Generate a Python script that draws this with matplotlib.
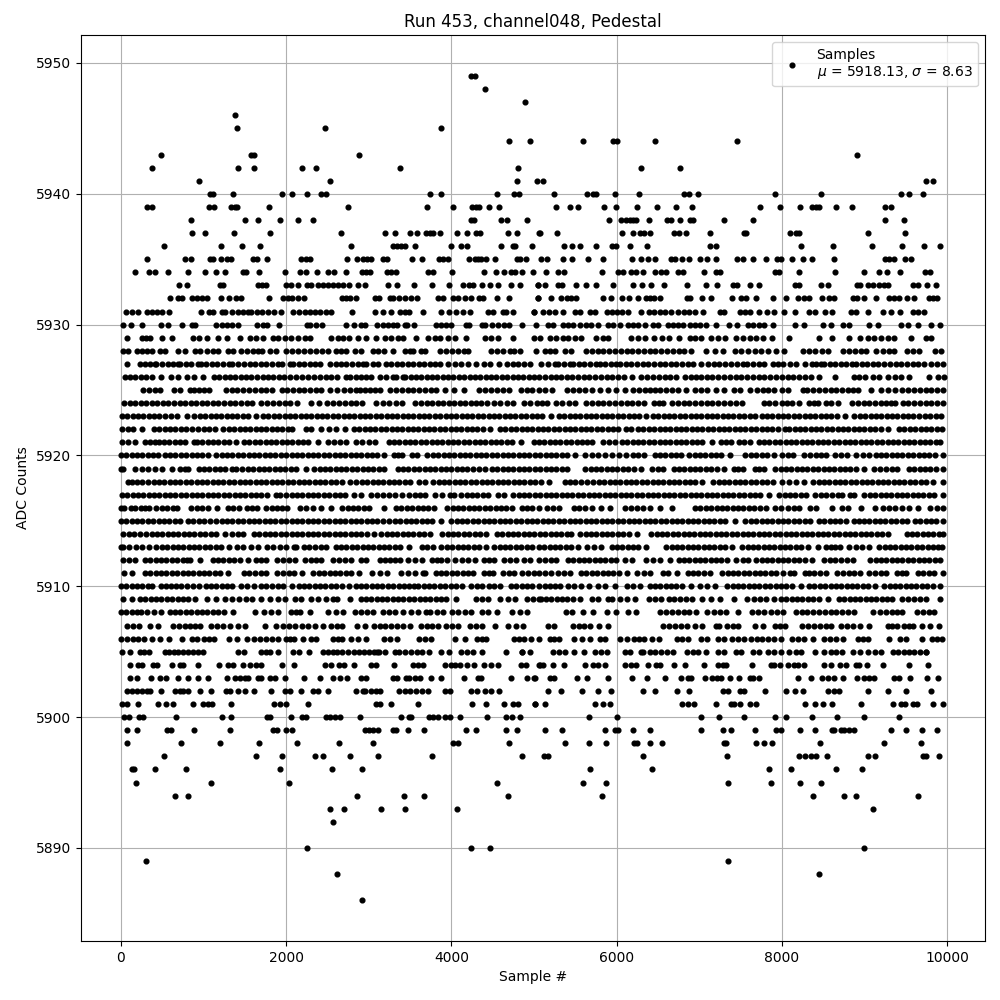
#!/usr/bin/env python3
"""Pedestal samples for run 453, channel 048 (values read off the scope plot)."""

import matplotlib

matplotlib.use("Agg")
import matplotlib.pyplot as plt

# sample numbers seen at each ADC level
s5949 = [4240, 4280]
s5948 = [4409]
s5947 = [4888]
s5946 = [1382]
s5945 = [1406, 2470, 3873]
s5944 = [4695, 4949, 5594, 5957, 6005, 6464, 7456]
s5943 = [488, 1580, 1612, 2881, 8906]
s5942 = [379, 1419, 1612, 2192, 2362, 3377, 4804, 6295, 6767]
s5941 = [947, 2531, 4792, 5037, 5110, 9741, 9825]
s5940 = [1076, 1108, 1358, 1951, 2071, 2253, 2418, 2482, 3740, 3873, 4550, 4755, 4816, 5243, 5642, 5715, 5755, 5981,
         6271, 6815, 6875, 6984, 7915, 8471, 9442, 9535, 9704]
s5939 = [310, 379, 1068, 1124, 1334, 1378, 1406, 1793, 2748, 3704, 4018, 4252, 4300, 4332, 4453, 4574, 5271, 5437,
         5533, 5848, 5993, 6247, 6488, 6718, 6912, 7734, 7976, 8217, 8363, 8415, 8455, 8653, 8854, 9245, 9321]
s5938 = [850, 1503, 1660, 1926, 2144, 2325, 4240, 4270, 4598, 4670, 4912, 5908, 6053, 6118, 6158, 6198, 6239, 6392,
         6609, 6658, 6767, 6891, 6924, 7298, 7649, 9245, 9475]
s5937 = [862, 1020, 1370, 1805, 2664, 3196, 3317, 3498, 3583, 3695, 3744, 3780, 3861, 4070, 4187, 4300, 4348, 4683,
         4792, 5066, 5074, 5279, 6065, 6198, 6279, 6327, 6404, 6694, 6754, 6839, 7129, 7548, 7568, 8096, 8169, 8205,
         9039, 9487]
s5936 = [524, 1213, 1467, 1685, 2785, 3293, 3341, 3385, 3438, 3558, 3994, 4111, 4187, 4598, 4743, 4771, 4977, 5364,
         5461, 5558, 5751, 5944, 5989, 6162, 6368, 7129, 7198, 8229, 8616, 9088, 9451, 9716, 9910]
s5935 = [318, 778, 850, 1076, 1116, 1213, 1278, 1334, 1600, 1648, 1769, 2184, 2245, 2285, 2732, 2857, 2930, 2978,
         3027, 3172, 3220, 3522, 3643, 3849, 3897, 3957, 4211, 4280, 4320, 4360, 4421, 4526, 4792, 4832, 4900, 5086,
         5159, 5352, 5461, 5654, 5836, 6186, 6295, 6380, 6460, 6660, 6710, 6791, 6875, 7004, 7093, 7206, 7456, 7528,
         7649, 7806, 7939, 7992, 8121, 8254, 8363, 8628, 9253, 9293, 9362, 9487, 9559]
s5934 = [173, 343, 415, 572, 814, 1020, 1153, 1257, 1479, 1511, 1672, 1987, 2168, 2241, 2374, 2507, 2575, 2724, 2918,
         2970, 3018, 3220, 3272, 3333, 3716, 3776, 4006, 4393, 4538, 4638, 4723, 4771, 4852, 4993, 5146, 5292, 5364,
         5824, 6017, 6077, 6174, 6235, 6319, 6464, 6541, 6601, 6742, 6803, 7057, 7198, 7254, 7915, 7972, 8205, 8640,
         8991, 9172, 9269, 9426, 9729, 9789]
s5933 = [701, 794, 1197, 1237, 1660, 1713, 1761, 2000, 2063, 2144, 2253, 2305, 2386, 2446, 2507, 2567, 2628, 2688,
         2760, 2869, 2954, 3232, 3341, 3546, 3764, 3974, 4139, 4211, 4260, 4372, 4465, 4562, 4723, 4832, 5046, 5050,
         5134, 5292, 5340, 5509, 5630, 5747, 5956, 6198, 6307, 6416, 6573, 6851, 7081, 7214, 7407, 7456, 7609, 7730,
         8165, 8205, 8471, 8556, 8906, 8951, 9039, 9100, 9181, 9241, 9281, 9584, 9644, 9753, 9861]
s5932 = [596, 693, 733, 862, 923, 975, 1044, 1213, 1310, 1398, 1459, 1789, 1963, 2023, 2075, 2144, 2216, 2676, 2720,
         2777, 2841, 3071, 3123, 3252, 3292, 3365, 3434, 3514, 3583, 3836, 3897, 4018, 4078, 4163, 4240, 4340, 4380,
         4550, 4695, 5046, 5050, 5211, 5328, 5400, 5453, 5513, 5836, 5936, 6065, 6150, 6259, 6351, 6400, 6452, 6521,
         6851, 6891, 7032, 7145, 7395, 7508, 7568, 7685, 7891, 8048, 8193, 8274, 8334, 8491, 8576, 8636, 8858, 8906,
         9000, 9140, 9293, 9362, 9422, 9511, 9600, 9777, 9825, 9874]
s5931 = [60, 129, 210, 310, 371, 431, 492, 584, 963, 1068, 1108, 1217, 1257, 1350, 1419, 1479, 1539, 1580, 1648, 1713,
         1781, 1854, 1934, 2084, 2156, 2225, 2285, 2345, 2406, 2487, 2547, 2797, 3075, 3172, 3272, 3373, 3434, 3486,
         3655, 3877, 3974, 4059, 4139, 4220, 4441, 4502, 4622, 4663, 4743, 4997, 5001, 5110, 5183, 5259, 5352, 5493,
         5553, 5674, 5735, 5884, 5948, 6005, 6069, 6138, 6291, 6392, 6448, 6521, 6581, 6662, 6742, 6811, 6875, 6944,
         7045, 7246, 7306, 7488, 7560, 7617, 7730, 7818, 7911, 8032, 8165, 8326, 8399, 8520, 8608, 8838, 8898, 9039,
         9221, 9321, 9426, 9584, 9644, 9724]
s5930 = [28, 125, 254, 488, 572, 741, 855, 895, 1148, 1217, 1278, 1338, 1419, 1652, 1721, 1769, 1914, 2253, 2285,
         2366, 2434, 2728, 2821, 2910, 2950, 3103, 3172, 3232, 3292, 3341, 3434, 3465, 3542, 3817, 3877, 3938, 3998,
         4175, 4211, 4372, 4405, 4490, 4566, 4631, 4703, 4856, 5030, 5171, 5231, 5352, 5412, 5473, 5553, 5634, 5695,
         5775, 5896, 5957, 6037, 6138, 6198, 6259, 6339, 6440, 6500, 6621, 6682, 6742, 6803, 6883, 6944, 7004, 7085,
         7198, 7355, 7456, 7589, 7649, 7730, 7790, 7891, 8165, 8266, 8495, 8596, 8737, 8818, 9052, 9161, 9442, 9523,
         9644, 9801, 9914]
s5929 = [68, 250, 302, 350, 500, 621, 875, 947, 1036, 1177, 1278, 1439, 1560, 1640, 1720, 1842, 1902, 1983, 2063,
         2144, 2225, 2285, 2547, 2628, 2688, 2760, 2869, 2970, 3091, 3192, 3272, 3353, 3414, 3574, 3716, 3796, 3857,
         3957, 4038, 4179, 4401, 4481, 4562, 4743, 5005, 5070, 5191, 5271, 5352, 5412, 5493, 5574, 5755, 5836, 5896,
         6178, 6259, 6339, 6452, 6549, 6633, 6754, 6883, 6944, 7024, 7145, 7226, 7315, 7448, 7528, 7609, 7689, 7770,
         7879, 8092, 8447, 8604, 8818, 8947, 9039, 9120, 9201, 9281, 9362, 9563, 9745, 9805]
s5928 = [20, 89, 190, 250, 310, 370, 471, 532, 693, 774, 895, 960, 1036, 1117, 1177, 1298, 1358, 1459, 1527, 1600,
         1660, 1713, 1801, 1882, 2003, 2076, 2148, 2221, 2293, 2366, 2439, 2507, 2599, 2668, 2728, 2829, 2910, 3051,
         3111, 3180, 3293, 3434, 3494, 3541, 3635, 3675, 3857, 3930, 4002, 4075, 4147, 4200, 4482, 4554, 4627, 4708,
         4752, 4832, 5026, 5130, 5191, 5251, 5372, 5453, 5634, 5700, 5770, 5840, 5910, 5980, 6050, 6120, 6190, 6260,
         6330, 6400, 6470, 6540, 6610, 6680, 6750, 6820, 6900, 7085, 7186, 7286, 7428, 7509, 7589, 7670, 7750, 7830,
         7931, 8032, 8254, 8326, 8407, 8487, 8564, 8737, 8810, 8882, 8959, 9020, 9140, 9221, 9301, 9362, 9511, 9584,
         9664, 9858, 9930]
s5927 = [77, 230, 290, 350, 410, 430, 500, 565, 630, 695, 715, 785, 850, 935, 965, 1030, 1100, 1165, 1235, 1310,
         1350, 1420, 1490, 1560, 1625, 1695, 1760, 1830, 1900, 1950, 2045, 2085, 2150, 2215, 2285, 2350, 2415, 2530,
         2600, 2665, 2730, 2800, 2865, 2930, 2970, 3050, 3110, 3205, 3270, 3340, 3405, 3470, 3540, 3605, 3670, 3740,
         3800, 3865, 3960, 4040, 4120, 4200, 4300, 4390, 4465, 4580, 4670, 4740, 4810, 4885, 4950, 5090, 5170, 5250,
         5290, 5360, 5430, 5470, 5540, 5610, 5680, 5750, 5800, 5860, 5930, 5995, 6045, 6110, 6180, 6250, 6315, 6385,
         6450, 6520, 6590, 6655, 6725, 6790, 6860, 6930, 7020, 7105, 7175, 7245, 7315, 7385, 7455, 7525, 7580, 7650,
         7720, 7790, 7890, 7950, 8020, 8095, 8170, 8285, 8360, 8420, 8475, 8515, 8580, 8650, 8715, 8780, 8850, 8900,
         8965, 9035, 9100, 9170, 9240, 9310, 9380, 9445, 9515, 9585, 9650, 9720, 9810, 9880, 9950]
s5926 = [45, 110, 175, 240, 305, 370, 480, 600, 690, 794, 882, 995, 1125, 1190, 1255, 1320, 1385, 1450, 1515, 1580,
         1650, 1715, 1780, 1845, 1910, 1970, 2050, 2120, 2190, 2260, 2335, 2415, 2480, 2545, 2610, 2725, 2770, 2840,
         2905, 2970, 3030, 3130, 3210, 3290, 3335, 3420, 3440, 3505, 3570, 3635, 3700, 3765, 3830, 3895, 3960, 4025,
         4090, 4155, 4220, 4285, 4350, 4415, 4480, 4545, 4610, 4675, 4740, 4805, 4870, 4935, 5000, 5065, 5135, 5200,
         5265, 5330, 5400, 5460, 5530, 5600, 5670, 5740, 5810, 5880, 5950, 6020, 6090, 6190, 6300, 6370, 6440, 6510,
         6580, 6650, 6720, 6830, 6900, 6960, 7020, 7090, 7160, 7230, 7300, 7370, 7440, 7510, 7580, 7650, 7720, 7790,
         7860, 7930, 8000, 8070, 8140, 8210, 8280, 8350, 8450, 8640, 8870, 8940, 9010, 9100, 9180, 9280, 9370, 9440,
         9540, 9780, 9890, 9960]
s5925 = [270, 340, 410, 475, 640, 710, 830, 890, 940, 1000, 1060, 1270, 1340, 1410, 1480, 1550, 1620, 1690, 1760,
         1830, 1945, 2010, 2080, 2150, 2220, 2290, 2355, 2420, 2530, 2610, 2700, 2770, 2841, 2890, 2955, 3020, 3080,
         3130, 3260, 3330, 3400, 3470, 3540, 3610, 3680, 3750, 3815, 3917, 4026, 4147, 4340, 4410, 4480, 4550, 4630,
         4700, 4840, 4910, 4980, 5060, 5130, 5220, 5400, 5470, 5540, 5620, 5700, 5800, 5900, 5990, 6100, 6200, 6270,
         6340, 6410, 6470, 6530, 6600, 6670, 6740, 6840, 6950, 7020, 7090, 7200, 7300, 7420, 7500, 7620, 7700, 7770,
         7830, 7910, 8000, 8072, 8260, 8300, 8380, 8450, 8520, 8590, 8660, 8730, 8800, 8860, 8920, 9080, 9200, 9290,
         9370, 9450, 9530, 9600, 9670, 9740, 9810, 9880, 9950]
s5924 = [40, 105, 170, 240, 305, 375, 440, 510, 575, 640, 710, 775, 845, 910, 980, 1045, 1115, 1180, 1250, 1315,
         1385, 1450, 1520, 1585, 1690, 1770, 1840, 1910, 1980, 2050, 2130, 2300, 2400, 2500, 2570, 2640, 2710, 2780,
         2840, 2922, 3090, 3170, 3250, 3330, 3400, 3560, 3630, 3700, 3765, 3835, 3900, 3970, 4035, 4105, 4170, 4240,
         4300, 4360, 4430, 4510, 4590, 4670, 4750, 4880, 4950, 5040, 5100, 5160, 5270, 5340, 5420, 5500, 5630, 5700,
         5770, 5840, 5910, 5980, 6050, 6120, 6190, 6260, 6330, 6450, 6510, 6560, 6670, 6740, 6810, 6880, 6950, 7020,
         7090, 7160, 7230, 7300, 7370, 7440, 7520, 7780, 7850, 7920, 8000, 8060, 8120, 8213, 8330, 8385, 8440, 8530,
         8600, 8680, 8850, 8920, 8990, 9060, 9130, 9200, 9260, 9320, 9370, 9462, 9530, 9600, 9670, 9740, 9810, 9880,
         9950]
s5923 = [10, 75, 140, 205, 270, 335, 400, 465, 530, 600, 680, 800, 890, 955, 1020, 1085, 1150, 1215, 1280, 1345, 1410,
         1475, 1540, 1640, 1720, 1785, 1850, 1915, 1980, 2045, 2110, 2175, 2240, 2305, 2370, 2435, 2500, 2565, 2630,
         2695, 2760, 2825, 2890, 2955, 3020, 3085, 3150, 3215, 3280, 3345, 3410, 3475, 3540, 3605, 3670, 3735, 3800,
         3865, 3930, 3995, 4060, 4125, 4190, 4255, 4320, 4385, 4450, 4515, 4580, 4645, 4710, 4775, 4840, 4905, 4970,
         5035, 5100, 5200, 5300, 5365, 5430, 5495, 5560, 5625, 5690, 5755, 5820, 5885, 5950, 6015, 6080, 6145, 6210,
         6275, 6350, 6440, 6505, 6570, 6635, 6700, 6765, 6830, 6895, 6960, 7025, 7090, 7155, 7220, 7285, 7350, 7415,
         7480, 7545, 7610, 7675, 7760, 7820, 7885, 7950, 8015, 8080, 8145, 8210, 8275, 8340, 8405, 8470, 8535, 8600,
         8665, 8760, 8880, 8945, 9010, 9075, 9140, 9205, 9270, 9335, 9400, 9465, 9530, 9590, 9657, 9730, 9800, 9870,
         9930]
s5922 = [15, 80, 150, 250, 400, 465, 530, 595, 660, 725, 790, 860, 930, 1000, 1060, 1140, 1240, 1305, 1370, 1435,
         1500, 1565, 1630, 1695, 1760, 1825, 1890, 1955, 2020, 2075, 2240, 2300, 2420, 2520, 2608, 2710, 2820, 2885,
         2950, 3015, 3080, 3145, 3210, 3275, 3340, 3405, 3470, 3535, 3600, 3665, 3730, 3795, 3860, 3925, 3990, 4055,
         4120, 4185, 4250, 4315, 4380, 4470, 4590, 4655, 4720, 4785, 4850, 4915, 4980, 5045, 5110, 5175, 5240, 5305,
         5370, 5435, 5500, 5565, 5630, 5695, 5760, 5825, 5890, 5955, 6020, 6110, 6178, 6260, 6325, 6390, 6455, 6520,
         6585, 6650, 6715, 6780, 6845, 6910, 6975, 7040, 7105, 7170, 7235, 7300, 7365, 7430, 7495, 7560, 7625, 7690,
         7755, 7820, 7885, 7950, 8040, 8090, 8155, 8220, 8285, 8350, 8415, 8480, 8545, 8610, 8675, 8740, 8805, 8870,
         8935, 9000, 9065, 9130, 9195, 9280, 9420, 9485, 9550, 9615, 9680, 9740, 9810, 9880, 9938]
s5921 = [15, 90, 175, 290, 350, 410, 460, 520, 585, 650, 715, 780, 880, 920, 985, 1050, 1115, 1180, 1245, 1310, 1390,
         1490, 1555, 1620, 1685, 1750, 1815, 1880, 1945, 2010, 2075, 2140, 2205, 2270, 2380, 2510, 2580, 2650, 2730,
         2840, 2920, 3000, 3080, 3240, 3305, 3370, 3435, 3500, 3565, 3630, 3695, 3760, 3825, 3890, 3955, 4020, 4085,
         4150, 4215, 4280, 4345, 4410, 4475, 4540, 4605, 4670, 4735, 4840, 5000, 5060, 5125, 5190, 5255, 5320, 5385,
         5450, 5515, 5580, 5645, 5700, 5840, 5910, 5985, 6060, 6130, 6195, 6260, 6325, 6390, 6455, 6520, 6585, 6650,
         6715, 6780, 6845, 6910, 6975, 7040, 7150, 7260, 7325, 7390, 7480, 7545, 7610, 7720, 7785, 7850, 7915, 7980,
         8045, 8110, 8175, 8240, 8305, 8370, 8435, 8500, 8565, 8630, 8695, 8760, 8825, 8890, 8955, 9020, 9085, 9150,
         9215, 9280, 9345, 9410, 9475, 9540, 9605, 9670, 9735, 9800, 9865, 9920]
s5920 = [0, 65, 130, 195, 260, 325, 390, 450, 530, 595, 660, 725, 790, 855, 920, 985, 1050, 1150, 1220, 1280, 1350,
         1415, 1480, 1545, 1610, 1675, 1740, 1805, 1870, 1935, 2000, 2065, 2130, 2195, 2260, 2325, 2390, 2455, 2520,
         2585, 2650, 2715, 2780, 2845, 2910, 2975, 3040, 3105, 3190, 3300, 3350, 3400, 3520, 3580, 3710, 3775, 3840,
         3905, 3970, 4035, 4100, 4165, 4230, 4295, 4360, 4425, 4490, 4555, 4620, 4685, 4750, 4815, 4880, 4945, 5010,
         5075, 5140, 5205, 5270, 5335, 5400, 5500, 5620, 5700, 5780, 5860, 5940, 6030, 6110, 6200, 6265, 6330, 6460,
         6525, 6590, 6655, 6720, 6780, 6880, 6945, 7010, 7075, 7140, 7205, 7270, 7370, 7560, 7625, 7690, 7755, 7820,
         7900, 8000, 8070, 8140, 8270, 8340, 8410, 8475, 8540, 8640, 8715, 8790, 8900, 8980, 9060, 9140, 9200, 9265,
         9330, 9395, 9460, 9525, 9590, 9655, 9720, 9785, 9850, 9950]
s5919 = [0, 30, 170, 250, 330, 410, 500, 620, 720, 770, 810, 940, 1005, 1070, 1135, 1200, 1260, 1345, 1390, 1470, 1535,
         1600, 1665, 1730, 1795, 1860, 1925, 1990, 2055, 2120, 2240, 2340, 2405, 2470, 2535, 2600, 2665, 2730, 2795,
         2860, 2925, 2990, 3055, 3120, 3190, 3350, 3415, 3480, 3545, 3610, 3675, 3740, 3805, 3870, 3935, 4000, 4065,
         4130, 4195, 4260, 4340, 4410, 4490, 4555, 4620, 4685, 4750, 4815, 4880, 4945, 5010, 5075, 5140, 5205, 5270,
         5335, 5400, 5620, 5685, 5750, 5815, 5880, 5945, 6010, 6075, 6140, 6205, 6300, 6430, 6500, 6560, 6690, 6755,
         6820, 6885, 6950, 7015, 7080, 7145, 7210, 7300, 7420, 7475, 7530, 7670, 7730, 7780, 7920, 7985, 8050, 8115,
         8180, 8245, 8310, 8375, 8440, 8505, 8570, 8635, 8700, 8765, 8830, 8895, 9000, 9120, 9190, 9260, 9330, 9390,
         9540, 9605, 9670, 9735, 9800, 9865, 9950]
s5918 = [90, 130, 200, 260, 330, 395, 460, 525, 590, 655, 720, 785, 850, 915, 980, 1045, 1110, 1175, 1240, 1305, 1370,
         1435, 1500, 1565, 1630, 1695, 1760, 1825, 1890, 1955, 2020, 2085, 2150, 2215, 2280, 2345, 2410, 2475, 2540,
         2605, 2670, 2770, 2850, 2915, 2980, 3045, 3110, 3175, 3240, 3305, 3370, 3435, 3500, 3610, 3686, 3780, 3845,
         3910, 3975, 4040, 4105, 4170, 4235, 4300, 4365, 4430, 4495, 4560, 4625, 4690, 4755, 4820, 4885, 4950, 5015,
         5080, 5180, 5370, 5435, 5500, 5565, 5640, 5720, 5785, 5850, 5915, 5980, 6045, 6110, 6175, 6240, 6305, 6370,
         6435, 6500, 6565, 6630, 6695, 6760, 6825, 6890, 6955, 7040, 7170, 7235, 7300, 7365, 7430, 7495, 7560, 7625,
         7690, 7755, 7820, 7890, 8000, 8085, 8170, 8274, 8380, 8445, 8510, 8575, 8640, 8705, 8770, 8835, 8900, 8965,
         9030, 9095, 9160, 9225, 9290, 9355, 9420, 9485, 9550, 9615, 9680, 9745, 9830, 9954]
s5917 = [10, 75, 140, 205, 270, 335, 400, 465, 530, 595, 660, 725, 790, 855, 920, 985, 1050, 1115, 1180, 1245, 1310,
         1375, 1440, 1505, 1570, 1635, 1700, 1765, 1880, 1930, 2000, 2065, 2130, 2195, 2260, 2325, 2390, 2455, 2520,
         2585, 2650, 2715, 2820, 2900, 3030, 3100, 3170, 3240, 3320, 3400, 3490, 3555, 3620, 3685, 3800, 3890, 3980,
         4030, 4120, 4185, 4250, 4315, 4380, 4445, 4560, 4642, 4750, 4815, 4880, 4945, 5010, 5075, 5140, 5205, 5270,
         5335, 5400, 5465, 5530, 5595, 5660, 5725, 5790, 5855, 5920, 5985, 6050, 6115, 6180, 6245, 6310, 6375, 6440,
         6505, 6570, 6635, 6700, 6765, 6830, 6895, 6960, 7025, 7090, 7155, 7220, 7285, 7350, 7415, 7480, 7545, 7610,
         7675, 7740, 7840, 7970, 8035, 8100, 8165, 8230, 8290, 8400, 8470, 8540, 8610, 8680, 8730, 8820, 8880, 9000,
         9065, 9130, 9195, 9260, 9325, 9390, 9455, 9520, 9585, 9650, 9715, 9780, 9845, 9950]
s5916 = [0, 40, 120, 170, 240, 290, 340, 430, 495, 560, 625, 680, 850, 915, 980, 1056, 1157, 1290, 1360, 1430, 1530,
         1590, 1650, 1760, 1825, 1890, 1950, 2010, 2170, 2245, 2320, 2427, 2547, 2680, 2745, 2810, 2875, 2940, 3000,
         3180, 3330, 3395, 3460, 3525, 3590, 3655, 3720, 3790, 3950, 4015, 4080, 4145, 4210, 4275, 4340, 4405, 4470,
         4535, 4600, 4665, 4730, 4850, 4915, 4980, 5060, 5160, 5230, 5300, 5480, 5550, 5620, 5700, 5815, 5916, 6100,
         6175, 6250, 6325, 6400, 6529, 6670, 6950, 7015, 7080, 7145, 7210, 7275, 7340, 7405, 7470, 7535, 7600, 7665,
         7740, 7810, 7920, 7990, 8072, 8153, 8213, 8340, 8420, 8604, 8730, 8800, 8959, 9132, 9220, 9300, 9375, 9450,
         9535, 9644, 9800, 9875, 9950]
s5915 = [0, 65, 130, 195, 260, 325, 390, 455, 520, 585, 650, 715, 810, 870, 940, 1010, 1080, 1150, 1220, 1285, 1350,
         1415, 1480, 1545, 1610, 1675, 1740, 1805, 1870, 1935, 2000, 2065, 2130, 2195, 2260, 2325, 2390, 2455, 2520,
         2585, 2650, 2715, 2780, 2845, 2910, 2975, 3040, 3105, 3170, 3250, 3315, 3380, 3445, 3510, 3575, 3640, 3705,
         3770, 3870, 4000, 4065, 4130, 4195, 4260, 4325, 4390, 4455, 4520, 4585, 4650, 4715, 4780, 4845, 4910, 4975,
         5040, 5105, 5170, 5235, 5300, 5365, 5430, 5495, 5560, 5625, 5690, 5755, 5820, 5885, 5950, 6015, 6080, 6145,
         6210, 6275, 6340, 6405, 6470, 6535, 6600, 6665, 6730, 6795, 6860, 6925, 6990, 7055, 7120, 7185, 7250, 7315,
         7430, 7560, 7625, 7690, 7755, 7820, 7885, 7950, 8015, 8080, 8145, 8210, 8275, 8340, 8450, 8515, 8580, 8645,
         8710, 8775, 8880, 8930, 8995, 9060, 9125, 9190, 9255, 9320, 9385, 9450, 9520, 9610, 9675, 9740, 9805, 9870,
         9950]
s5914 = [30, 95, 160, 225, 300, 370, 435, 500, 565, 630, 695, 760, 825, 890, 955, 1020, 1085, 1150, 1260, 1350, 1415,
         1480, 1610, 1675, 1740, 1805, 1870, 1935, 2000, 2065, 2130, 2195, 2260, 2325, 2390, 2455, 2520, 2585, 2650,
         2715, 2780, 2845, 2910, 2975, 3060, 3150, 3215, 3280, 3345, 3410, 3475, 3540, 3605, 3670, 3740, 3890, 3955,
         4020, 4085, 4150, 4215, 4280, 4345, 4420, 4550, 4615, 4680, 4745, 4810, 4875, 4940, 5005, 5070, 5135, 5200,
         5265, 5330, 5395, 5450, 5560, 5625, 5690, 5755, 5820, 5885, 5950, 6015, 6080, 6145, 6250, 6420, 6485, 6550,
         6615, 6680, 6745, 6810, 6875, 6940, 7005, 7070, 7135, 7200, 7265, 7330, 7395, 7460, 7525, 7590, 7655, 7720,
         7785, 7850, 7915, 7980, 8045, 8110, 8175, 8240, 8305, 8370, 8435, 8500, 8565, 8630, 8695, 8760, 8825, 8890,
         8955, 9020, 9085, 9150, 9215, 9280, 9510, 9575, 9640, 9705, 9770, 9835, 9900, 9950]
s5913 = [0, 25, 100, 180, 260, 340, 430, 495, 560, 625, 690, 755, 820, 885, 950, 1015, 1080, 1145, 1210, 1310, 1410,
         1480, 1580, 1660, 1770, 1840, 1920, 2000, 2090, 2120, 2210, 2280, 2350, 2420, 2480, 2600, 2665, 2730, 2795,
         2860, 2925, 2990, 3055, 3120, 3185, 3250, 3315, 3380, 3490, 3640, 3710, 3780, 3880, 3945, 4010, 4075, 4140,
         4205, 4270, 4335, 4420, 4520, 4585, 4650, 4715, 4780, 4845, 4910, 4975, 5060, 5125, 5190, 5255, 5320, 5385,
         5450, 5530, 5640, 5725, 5810, 5940, 6005, 6070, 6135, 6200, 6265, 6360, 6600, 6665, 6730, 6795, 6860, 6925,
         6990, 7055, 7120, 7185, 7250, 7315, 7400, 7520, 7585, 7650, 7715, 7780, 7845, 7910, 7975, 8040, 8105, 8170,
         8235, 8320, 8435, 8530, 8590, 8650, 8710, 8809, 8900, 8975, 9050, 9180, 9245, 9310, 9375, 9440, 9505, 9570,
         9635, 9700, 9765, 9830, 9895, 9940]
s5912 = [30, 100, 170, 290, 355, 420, 485, 550, 615, 680, 745, 800, 834, 955, 1110, 1175, 1240, 1305, 1370, 1435, 1540,
         1630, 1695, 1760, 1890, 1960, 2040, 2110, 2230, 2300, 2360, 2420, 2570, 2640, 2715, 2790, 2900, 2970, 3130,
         3195, 3260, 3320, 3380, 3470, 3555, 3640, 3760, 3820, 3880, 3950, 4040, 4130, 4205, 4280, 4390, 4450, 4510,
         4640, 4710, 4780, 4880, 4950, 5060, 5130, 5200, 5270, 5410, 5475, 5540, 5605, 5670, 5735, 5800, 5865, 5930,
         5995, 6100, 6190, 6350, 6435, 6520, 6650, 6750, 6815, 6880, 6945, 7010, 7075, 7140, 7205, 7270, 7335, 7440,
         7528, 7590, 7690, 7755, 7820, 7885, 7950, 8015, 8080, 8145, 8210, 8275, 8370, 8510, 8580, 8650, 8720, 8790,
         8860, 9070, 9135, 9200, 9265, 9330, 9395, 9460, 9525, 9590, 9655, 9720, 9785, 9850, 9910]
s5911 = [40, 130, 290, 355, 420, 485, 550, 615, 680, 745, 810, 875, 940, 1005, 1070, 1135, 1200, 1300, 1490, 1555,
         1620, 1690, 1760, 1890, 1960, 2030, 2090, 2196, 2330, 2395, 2460, 2525, 2590, 2655, 2720, 2785, 2880, 3040,
         3130, 3220, 3390, 3475, 3560, 3660, 3680, 3810, 3875, 3940, 4005, 4070, 4135, 4200, 4260, 4390, 4450, 4500,
         4630, 4700, 4760, 4860, 4930, 5000, 5060, 5130, 5200, 5290, 5360, 5430, 5570, 5635, 5700, 5765, 5830, 5895,
         5960, 6025, 6130, 6250, 6330, 6410, 6560, 6620, 6730, 6860, 6925, 6990, 7055, 7130, 7280, 7345, 7410, 7475,
         7540, 7605, 7670, 7735, 7800, 7865, 7930, 8010, 8100, 8150, 8280, 8335, 8390, 8460, 8530, 8670, 8740, 8810,
         8880, 8950, 9060, 9130, 9195, 9260, 9400, 9450, 9500, 9650, 9715, 9780, 9845, 9950]
s5910 = [0, 65, 130, 195, 260, 325, 370, 480, 545, 610, 670, 730, 800, 870, 950, 1030, 1090, 1155, 1220, 1285, 1350,
         1450, 1520, 1610, 1700, 1750, 1830, 1895, 1960, 2070, 2150, 2215, 2280, 2345, 2410, 2475, 2540, 2605, 2670,
         2760, 2840, 2905, 2970, 3035, 3100, 3165, 3230, 3295, 3360, 3425, 3490, 3550, 3600, 3665, 3730, 3795, 3860,
         3925, 4000, 4060, 4130, 4240, 4305, 4370, 4450, 4520, 4590, 4720, 4785, 4850, 4915, 4980, 5060, 5130, 5195,
         5260, 5310, 5410, 5490, 5570, 5660, 5780, 5860, 5977, 6120, 6200, 6280, 6400, 6465, 6530, 6595, 6660, 6725,
         6790, 6900, 7010, 7100, 7190, 7340, 7405, 7470, 7535, 7600, 7665, 7730, 7795, 7860, 7925, 7990, 8055, 8120,
         8230, 8330, 8395, 8460, 8525, 8590, 8655, 8720, 8785, 8850, 8915, 8980, 9045, 9130, 9240, 9305, 9370, 9435,
         9500, 9565, 9630, 9695, 9760, 9825, 9920]
s5909 = [30, 130, 230, 295, 360, 425, 490, 555, 620, 685, 750, 815, 900, 1040, 1150, 1260, 1350, 1430, 1510, 1590,
         1700, 1800, 1900, 1990, 2105, 2185, 2300, 2390, 2480, 2570, 2615, 2777, 2900, 2965, 3030, 3095, 3160, 3225,
         3290, 3355, 3420, 3485, 3550, 3615, 3680, 3745, 3810, 3875, 3940, 4050, 4300, 4370, 4440, 4590, 4680, 4770,
         4910, 4985, 5060, 5080, 5145, 5210, 5275, 5340, 5405, 5470, 5560, 5700, 5780, 5900, 5950, 6037, 6126, 6226,
         6390, 6465, 6540, 6630, 6700, 6770, 6840, 6910, 7040, 7145, 7254, 7427, 7580, 7660, 7740, 7810, 7911, 7990,
         8055, 8120, 8185, 8250, 8315, 8380, 8445, 8560, 8690, 8755, 8820, 8885, 8950, 9015, 9080, 9145, 9210, 9275,
         9340, 9460, 9530, 9600, 9670, 9740, 9914]
s5908 = [0, 65, 130, 190, 240, 320, 400, 480, 590, 655, 720, 785, 850, 915, 980, 1045, 1110, 1175, 1250, 1358, 1620,
         1730, 1815, 1900, 2060, 2115, 2170, 2285, 2510, 2600, 2690, 2830, 2905, 2980, 3050, 3170, 3240, 3313, 3420,
         3510, 3600, 3690, 3744, 3830, 3900, 4010, 4085, 4160, 4240, 4370, 4440, 4550, 4730, 4825, 4920, 5390, 5460,
         5594, 5715, 5880, 5990, 6140, 6240, 6530, 6600, 6670, 6740, 6810, 6880, 6960, 7100, 7175, 7250, 7330, 7468,
         7640, 7715, 7790, 7865, 7940, 8010, 8170, 8240, 8310, 8380, 8450, 8520, 8590, 8660, 8730, 8800, 8880, 9110,
         9185, 9260, 9335, 9400, 9460, 9640, 9710, 9780, 9840]
s5907 = [70, 145, 220, 350, 450, 630, 700, 770, 840, 900, 960, 1090, 1165, 1240, 1315, 1420, 1499, 1741, 1880, 1960,
         2040, 2110, 2190, 2270, 2350, 2440, 2540, 2610, 2670, 2860, 2950, 3060, 3130, 3200, 3270, 3340, 3420, 3500,
         3630, 3700, 3770, 3840, 3940, 4010, 4080, 4230, 4300, 4370, 4534, 4680, 4780, 4864, 5170, 5240, 5470, 5540,
         5610, 5680, 5790, 5890, 6560, 6630, 6710, 6780, 6850, 6950, 7030, 7200, 7240, 7340, 7405, 7470, 7670, 7770,
         7920, 7980, 8040, 8250, 8320, 8390, 8460, 8530, 8590, 8720, 8790, 8860, 8950, 9060, 9280, 9340, 9400, 9480,
         9535, 9590, 9700, 9800, 9898]
s5906 = [0, 70, 140, 210, 280, 370, 472, 584, 733, 860, 920, 1000, 1065, 1130, 1310, 1400, 1530, 1605, 1680, 1755,
         1830, 1900, 2000, 2050, 2100, 2200, 2300, 2366, 2570, 2625, 2680, 2780, 2870, 2970, 3180, 3260, 3340, 3610,
         3680, 3756, 4047, 4160, 4310, 4365, 4420, 4760, 4820, 4880, 4960, 5060, 5190, 5245, 5300, 5490, 5585, 5680,
         5800, 5860, 6040, 6130, 6210, 6270, 6330, 6430, 6510, 6730, 6795, 6860, 7020, 7100, 7230, 7300, 7400, 7470,
         7540, 7630, 7695, 7760, 7830, 7911, 7992, 8120, 8195, 8270, 8375, 8510, 8585, 8660, 8740, 8920, 8980, 9040,
         9293, 9430, 9500, 9696, 9820, 9880, 9940]
s5905 = [16, 113, 230, 280, 340, 530, 580, 640, 690, 750, 810, 870, 930, 990, 1420, 1490, 1700, 1760, 1810, 1902,
         2080, 2150, 2277, 2450, 2510, 2570, 2610, 2680, 2750, 2820, 2880, 2940, 3000, 3060, 3100, 3120, 3193, 3313,
         3370, 3440, 3515, 3580, 3640, 3725, 3877, 3970, 4115, 4190, 4260, 4370, 4660, 4850, 4860, 4950, 5230, 5300,
         5370, 5490, 5610, 5740, 5810, 5880, 6100, 6160, 6300, 6320, 6400, 6470, 6540, 6610, 6680, 6851, 6925, 6990,
         7085, 7226, 7306, 7448, 7508, 7649, 7718, 7830, 7900, 7992, 8092, 8170, 8233, 8407, 8507, 8596, 8660, 8725,
         8860, 8950, 9040, 9125, 9200, 9345, 9410, 9475, 9540, 9605, 9670, 9745, 9740]
s5904 = [113, 210, 250, 383, 439, 621, 713, 746, 935, 1189, 1298, 1358, 1479, 1564, 1640, 1700, 1950, 2095, 2466, 2545,
         2640, 2700, 2821, 3023, 3083, 3305, 3534, 3595, 3655, 3917, 3990, 4045, 4103, 4190, 4278, 4391, 4478, 4567,
         4844, 4905, 5066, 5070, 5110, 5231, 5364, 5618, 5715, 5775, 5860, 6102, 6178, 6239, 6380, 6481, 6521, 6694,
         6827, 7057, 7226, 7287, 7319, 7637, 7871, 7911, 7980, 8072, 8153, 8193, 8274, 8509, 8596, 8705, 8777, 8898,
         8939, 9027, 9221, 9535, 9773]
s5903 = [113, 189, 367, 475, 548, 693, 814, 935, 1056, 1286, 1382, 1439, 1499, 1540, 1660, 1700, 1805, 1866, 1987,
         2216, 2414, 2567, 2648, 2736, 2910, 2970, 3293, 3341, 3446, 3486, 3554, 3615, 3756, 3877, 4151, 4320, 4360,
         4719, 4914, 5005, 5009, 5191, 5239, 5521, 5642, 5896, 6186, 6368, 6585, 6779, 6863, 6904, 7069, 7157, 7213,
         7266, 7375, 7476, 7609, 7649, 7730, 8193, 8350, 8483, 8556, 8636, 8737, 8906, 8999, 9060, 9120, 9362, 9422,
         9547, 9753, 9886]
s5902 = [68, 129, 190, 250, 310, 350, 488, 653, 713, 753, 814, 959, 1092, 1277, 1318, 1419, 1503, 1612, 1821, 1983,
         2043, 2180, 2325, 2386, 2511, 2849, 2930, 2950, 3030, 3091, 3135, 3365, 3434, 3498, 3574, 3647, 3716, 3917,
         3978, 4240, 4312, 4401, 4482, 4574, 5167, 5328, 5582, 5775, 5932, 6319, 6460, 6730, 6874, 7287, 7347, 7490,
         7548, 7794, 8048, 8165, 8254, 8556, 8636, 8697, 9039, 9281, 9499, 9805]
s5901 = [8, 68, 210, 451, 548, 633, 866, 995, 1056, 1096, 1334, 1854, 1930, 2003, 2265, 3091, 3132, 3264, 3595, 4247,
         4417, 4638, 4747, 4804, 5009, 5013, 5134, 5739, 5836, 5916, 6791, 6863, 6936, 7202, 7387, 7416, 7492, 7609,
         7689, 8278, 8399, 8495, 8604, 8955, 9342, 9442, 9491, 9584, 9636, 9833, 9946]
s5900 = [40, 101, 222, 262, 669, 1225, 1334, 1769, 1809, 2059, 2192, 2237, 2487, 2535, 2587, 2648, 2894, 3389, 3490,
         3510, 3728, 3776, 3837, 3917, 3985, 4105, 4429, 4659, 4731, 4828, 5666, 6005, 7021, 7238, 7540, 7915, 8048,
         8362, 8665, 8991, 9414]
s5899 = [68, 193, 560, 600, 887, 1322, 1842, 1894, 2000, 2071, 2954, 3002, 3051, 3111, 3293, 3333, 3474, 3667, 4175,
         4296, 4659, 4792, 5134, 5340, 5860, 5981, 6017, 6198, 6404, 7021, 7287, 7383, 7673, 7928, 7987, 8217, 8399,
         8604, 8636, 8717, 8757, 8818, 8878, 9318, 9500, 9692, 9874]
s5898 = [68, 729, 1201, 1672, 2132, 2640, 3051, 4018, 4078, 4695, 5376, 5666, 5872, 6210, 6247, 6404, 6549, 7298,
         7330, 7685, 7782, 7879, 8459, 9233, 9680]
s5897 = [524, 1636, 1951, 2349, 2446, 2773, 3111, 3764, 4852, 5118, 5171, 6319, 7335, 8205, 8278, 8350, 8411, 8544,
         9039, 9124, 9704, 9745, 9898]
s5896 = [129, 157, 415, 790, 1926, 2555, 2918, 5678, 6428, 7843, 8109, 8653, 8967]
s5895 = [185, 1092, 2035, 4550, 5594, 5872, 7347, 7867, 8217, 8471]
s5894 = [657, 814, 2857, 3425, 3667, 4683, 5823, 8375, 8749, 8894, 9644]
s5893 = [2531, 2700, 3147, 3438, 4070, 9100]
s5892 = [2567]
s5890 = [2253, 4236, 4465, 8991]
s5889 = [306, 7347]
s5888 = [2615, 8447]
s5886 = [2918]

levels = [5949, 5948, 5947, 5946, 5945, 5944, 5943, 5942, 5941, 5940, 5939, 5938, 5937, 5936, 5935, 5934, 5933, 5932,
          5931, 5930, 5929, 5928, 5927, 5926, 5925, 5924, 5923, 5922, 5921, 5920, 5919, 5918, 5917, 5916, 5915, 5914,
          5913, 5912, 5911, 5910, 5909, 5908, 5907, 5906, 5905, 5904, 5903, 5902, 5901, 5900, 5899, 5898, 5897, 5896,
          5895, 5894, 5893, 5892, 5890, 5889, 5888, 5886]

mean_adc = 5918.13
sigma_adc = 8.63


def main() -> None:
    xs, ys = [], []
    for level in levels:
        row = globals()[f"s{level}"]
        xs.extend(row)
        ys.extend([level] * len(row))

    fig, ax = plt.subplots(figsize=(10, 10))
    ax.plot(xs, ys, "k.", markersize=6.8, label=f"Samples\n$\\mu$ = {mean_adc:.2f}, $\\sigma$ = {sigma_adc:.2f}")
    ax.set_xlim(-484, 10460)
    ax.set_ylim(5882.89, 5952.14)
    ax.set_title("Run 453, channel048, Pedestal")
    ax.set_xlabel("Sample #")
    ax.set_ylabel("ADC Counts")
    ax.legend(loc="upper right")
    ax.grid(True)
    fig.subplots_adjust(left=0.081, right=0.985, top=0.965, bottom=0.059)
    fig.savefig("out.png", dpi=100)
    plt.close(fig)


if __name__ == "__main__":
    main()
